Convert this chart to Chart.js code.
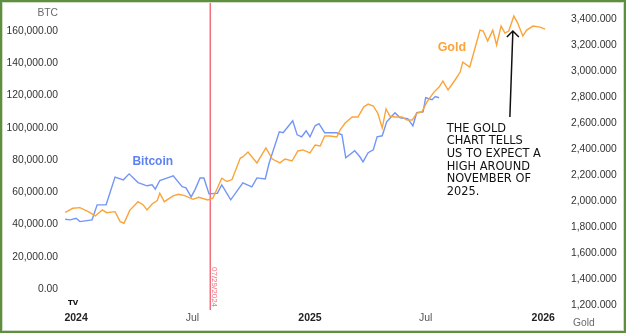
<!DOCTYPE html>
<html>
<head>
<meta charset="utf-8">
<script src="https://cdn.jsdelivr.net/npm/chart.js@4.4.1/dist/chart.umd.min.js"></script>
<style>
  html, body { margin: 0; padding: 0; background: #fff; }
  #wrap { position: relative; width: 626px; height: 333px; }
  #wrap canvas { position: absolute; left: 0; top: 0; }
  #frame {
    position: absolute; inset: 0;
    border: 2px solid #5e8f3e;
    box-shadow: inset 0 0 0 1px #cfdcc6;
    pointer-events: none;
  }
</style>
</head>
<body>
<div id="wrap">
  <canvas id="chart" width="626" height="333"></canvas>
  <div id="frame"></div>
</div>
<script>
// Bitcoin closes (USD)
const btcDates = [
  "2023-12-15", "2023-12-23", "2024-01-01", "2024-01-07", "2024-01-26", "2024-02-03",
  "2024-02-17", "2024-03-02", "2024-03-15", "2024-03-24", "2024-04-07", "2024-04-21",
  "2024-04-29", "2024-05-04", "2024-05-11", "2024-05-22", "2024-06-01", "2024-06-15",
  "2024-06-21", "2024-06-29", "2024-07-05", "2024-07-13", "2024-07-19", "2024-07-27",
  "2024-08-09", "2024-08-16", "2024-08-30", "2024-09-18", "2024-10-02", "2024-10-10",
  "2024-10-23", "2024-10-29", "2024-11-14", "2024-11-20", "2024-12-05", "2024-12-12",
  "2024-12-19", "2024-12-26", "2025-01-01", "2025-01-09", "2025-01-15", "2025-01-24",
  "2025-02-12", "2025-02-20", "2025-02-26", "2025-03-12", "2025-03-20", "2025-03-25",
  "2025-04-02", "2025-04-10", "2025-04-16", "2025-04-24", "2025-05-01", "2025-05-14",
  "2025-05-22", "2025-06-03", "2025-06-11", "2025-06-17", "2025-06-27", "2025-07-01",
  "2025-07-11", "2025-07-16", "2025-07-22"
];
const btcValues = [
  43300, 42900, 43900, 41800, 42900, 52200,
  52200, 69400, 67700, 71400, 66000, 64000,
  64600, 61900, 67300, 68800, 70200, 63500,
  62700, 57100, 61500, 68800, 68800, 59000,
  59400, 64600, 55300, 65800, 63400, 68900,
  68300, 78000, 97500, 96900, 104300, 95600,
  94400, 98100, 94400, 101200, 102500, 96900,
  96900, 95600, 81400, 85700, 82000, 78900,
  84500, 86300, 94400, 95000, 103700, 109300,
  106200, 105600, 101200, 109300, 109900, 118600,
  117400, 119300, 118600
];

// Gold closes (USD / oz)
const goldDates = [
  "2023-12-15", "2023-12-27", "2024-01-07", "2024-01-20", "2024-01-31", "2024-02-11",
  "2024-02-18", "2024-03-02", "2024-03-10", "2024-03-16", "2024-03-25", "2024-04-07",
  "2024-04-15", "2024-04-21", "2024-04-29", "2024-05-07", "2024-05-11", "2024-05-18",
  "2024-06-01", "2024-06-09", "2024-06-19", "2024-07-02", "2024-07-11", "2024-07-25",
  "2024-08-02", "2024-08-16", "2024-08-24", "2024-09-01", "2024-09-14", "2024-09-18",
  "2024-09-26", "2024-10-10", "2024-10-24", "2024-11-03", "2024-11-15", "2024-11-23",
  "2024-12-04", "2024-12-13", "2024-12-21", "2025-01-01", "2025-01-09", "2025-01-17",
  "2025-01-24", "2025-02-01", "2025-02-12", "2025-02-17", "2025-02-25", "2025-03-08",
  "2025-03-17", "2025-03-26", "2025-04-02", "2025-04-10", "2025-04-17", "2025-04-24",
  "2025-04-30", "2025-05-06", "2025-05-14", "2025-05-25", "2025-06-02", "2025-06-10",
  "2025-06-17", "2025-06-25", "2025-07-03", "2025-07-14", "2025-07-22", "2025-07-28",
  "2025-08-05", "2025-08-16", "2025-08-24", "2025-08-28", "2025-09-08", "2025-09-24",
  "2025-09-29", "2025-10-06", "2025-10-14", "2025-10-20", "2025-10-27", "2025-11-02",
  "2025-11-08", "2025-11-16", "2025-11-22", "2025-11-30", "2025-12-06", "2025-12-16",
  "2025-12-27", "2026-01-04"
];
const goldValues = [
  1913, 1944, 1949, 1918, 1885, 1931,
  1910, 1918, 1841, 1829, 1928, 1995,
  1970, 1931, 1977, 2003, 2060, 1995,
  2039, 2052, 2041, 2013, 2029, 2008,
  2021, 2175, 2150, 2165, 2331, 2339,
  2377, 2293, 2408, 2323, 2293, 2323,
  2308, 2385, 2393, 2370, 2431, 2423,
  2500, 2500, 2493, 2546, 2600, 2646,
  2646, 2723, 2746, 2731, 2677, 2562,
  2708, 2654, 2646, 2646, 2623, 2623,
  2677, 2685, 2762, 2838, 2877, 2923,
  2854, 2931, 2992, 3069, 3031, 3315,
  3308, 3231, 3315, 3200, 3346, 3292,
  3308, 3423, 3369, 3269, 3315, 3346,
  3338, 3323
];

// axis ticks
const xTickDates = ["2024-01-01", "2024-07-01", "2025-01-01", "2025-07-01", "2026-01-01"];
const xTickLabels = ["2024", "Jul", "2025", "Jul", "2026"];
const btcTicks = [0, 20000, 40000, 60000, 80000, 100000, 120000, 140000, 160000];
const goldTicks = [1200, 1400, 1600, 1800, 2000, 2200, 2400, 2600, 2800, 3000, 3200, 3400];

const markerDate = "2024-07-29";
const markerLabel = "07/29/2024";
const noteLines = ["THE GOLD", "CHART TELLS", "US TO EXPECT A", "HIGH AROUND", "NOVEMBER OF", "2025."];

const BLUE = "#7396f6";
const ORANGE = "#fba43a";
const RED = "#f26f7e";

// days since 2024-01-01
function toDay(s) {
  const [y, m, d] = s.split("-").map(Number);
  return (Date.UTC(y, m - 1, d) - Date.UTC(2024, 0, 1)) / 86400000;
}

function toPoints(dates, values) {
  return dates.map((d, i) => ({ x: toDay(d), y: values[i] }));
}

function fixedTicks(list) {
  return function (scale) {
    scale.ticks = list.map(v => ({ value: v }));
  };
}

// fixed axis thickness, and no extra room reserved for edge labels
function fixedSize(prop, size) {
  return function (scale) {
    scale[prop] = size;
    scale.paddingTop = 0;
    scale.paddingBottom = 0;
    scale.paddingLeft = 0;
    scale.paddingRight = 0;
  };
}

const tickFont = { family: "'Liberation Sans', Arial, sans-serif", size: 10.3 };

const overlay = {
  id: "overlay",
  beforeDatasetsDraw(chart) {
    const { ctx, chartArea, scales } = chart;
    const x = scales.x.getPixelForValue(toDay(markerDate));
    ctx.save();
    ctx.strokeStyle = RED;
    ctx.lineWidth = 1.5;
    ctx.beginPath();
    ctx.moveTo(x, 2);
    ctx.lineTo(x, chartArea.bottom + 5);
    ctx.stroke();

    ctx.translate(x + 4, chartArea.bottom - 38);
    ctx.rotate(Math.PI / 2);
    ctx.fillStyle = RED;
    ctx.font = "8px 'Liberation Sans', Arial, sans-serif";
    ctx.textBaseline = "middle";
    ctx.fillText(markerLabel, 0, 0);
    ctx.restore();
  },
  afterDatasetsDraw(chart) {
    const { ctx, scales } = chart;
    const xs = scales.x, yb = scales.yBtc, yg = scales.yGold;
    ctx.save();

    // series names
    ctx.font = "bold 12px 'Liberation Sans', Arial, sans-serif";
    ctx.textAlign = "center";
    ctx.textBaseline = "middle";
    ctx.fillStyle = "#5f82f3";
    ctx.fillText("Bitcoin", xs.getPixelForValue(toDay("2024-04-30")), yb.getPixelForValue(79000));
    ctx.font = "bold 12.5px 'Liberation Sans', Arial, sans-serif";
    ctx.fillStyle = ORANGE;
    ctx.fillText("Gold", xs.getPixelForValue(toDay("2025-08-11")), yg.getPixelForValue(3180));

    // axis captions
    ctx.font = "10.3px 'Liberation Sans', Arial, sans-serif";
    ctx.fillStyle = "#6a6a6a";
    ctx.textAlign = "right";
    ctx.fillText("BTC", 58, 13);
    ctx.textAlign = "left";
    ctx.fillText("Gold", 573, 323);

    // small logo mark
    ctx.font = "bold 7px 'DejaVu Sans', sans-serif";
    ctx.fillStyle = "#111";
    ctx.textAlign = "center";
    ctx.fillText("TV", 73, 303);

    // note text
    const noteX = xs.getPixelForValue(toDay("2025-08-03"));
    ctx.font = "11.4px 'DejaVu Sans', sans-serif";
    ctx.fillStyle = "#111";
    ctx.textAlign = "left";
    ctx.textBaseline = "alphabetic";
    noteLines.forEach((line, i) => ctx.fillText(line, noteX, 131.5 + i * 12.7));

    // arrow up to the gold high
    let peak = 0;
    goldValues.forEach((v, i) => { if (v > goldValues[peak]) peak = i; });
    const tipX = xs.getPixelForValue(toDay(goldDates[peak])) - 1;
    const tipY = yg.getPixelForValue(goldValues[peak]) + 15;
    const tailX = tipX - 3;
    const tailY = 117;
    ctx.strokeStyle = "#111";
    ctx.lineWidth = 1.5;
    ctx.beginPath();
    ctx.moveTo(tailX, tailY);
    ctx.lineTo(tipX, tipY);
    ctx.moveTo(tipX - 6, tipY + 6);
    ctx.lineTo(tipX, tipY);
    ctx.lineTo(tipX + 6, tipY + 6);
    ctx.stroke();
    ctx.restore();
  }
};

new Chart(document.getElementById("chart"), {
  type: "line",
  data: {
    datasets: [
      {
        label: "Bitcoin",
        data: toPoints(btcDates, btcValues),
        yAxisID: "yBtc",
        borderColor: BLUE,
        borderWidth: 1.4,
        pointRadius: 0,
        tension: 0,
        order: 2
      },
      {
        label: "Gold",
        data: toPoints(goldDates, goldValues),
        yAxisID: "yGold",
        borderColor: ORANGE,
        borderWidth: 1.4,
        pointRadius: 0,
        tension: 0,
        order: 1
      }
    ]
  },
  options: {
    responsive: false,
    devicePixelRatio: 1,
    animation: false,
    layout: { padding: { top: 5 } },
    plugins: {
      legend: { display: false },
      tooltip: { enabled: false }
    },
    scales: {
      x: {
        type: "linear",
        min: -22,
        max: 765,
        grid: { display: false, drawTicks: false },
        border: { display: false },
        afterBuildTicks: fixedTicks(xTickDates.map(toDay)),
        afterFit: fixedSize("height", 28),
        ticks: {
          autoSkip: false,
          maxRotation: 0,
          padding: 7,
          color: ctx => (xTickLabels[ctx.index] === "Jul" ? "#555" : "#222"),
          font: ctx => ({
            family: tickFont.family,
            size: 10.5,
            weight: xTickLabels[ctx.index] === "Jul" ? "normal" : "bold"
          }),
          callback: (v, i) => xTickLabels[i]
        }
      },
      yBtc: {
        type: "linear",
        position: "left",
        min: -9900,
        max: 176100,
        grid: { display: false, drawTicks: false },
        border: { display: false },
        afterBuildTicks: fixedTicks(btcTicks),
        afterFit: fixedSize("width", 62),
        ticks: {
          padding: 4,
          color: "#333",
          font: tickFont,
          callback: v => v.toLocaleString("en-US", { minimumFractionDigits: 2, maximumFractionDigits: 2 })
        }
      },
      yGold: {
        type: "linear",
        position: "right",
        min: 1200,
        max: 3508,
        grid: { display: false, drawTicks: false },
        border: { display: false },
        afterBuildTicks: fixedTicks(goldTicks),
        afterFit: fixedSize("width", 61),
        ticks: {
          padding: 6,
          color: "#333",
          font: tickFont,
          callback: v => v.toLocaleString("en-US", { minimumFractionDigits: 3, maximumFractionDigits: 3 })
        }
      }
    }
  },
  plugins: [overlay]
});
</script>
</body>
</html>
